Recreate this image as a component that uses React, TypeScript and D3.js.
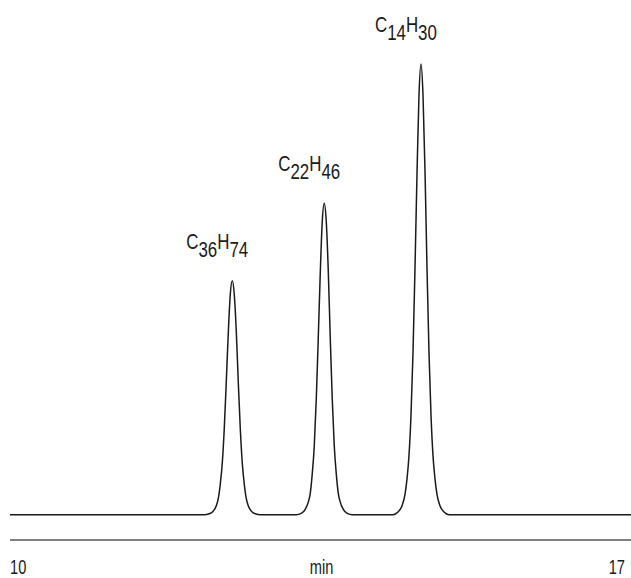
import React from 'react';
import * as d3 from 'd3';

// chromatogram trace (signal: tallest peak = 100)
const traceTimes = [
    10.0,
    12.211, 12.268, 12.314, 12.348, 12.371, 12.393, 12.416, 12.439, 12.462, 12.485, 12.507,
    12.530,
    12.553, 12.576, 12.598, 12.621, 12.644, 12.667, 12.689, 12.712, 12.746, 12.792, 12.849,
    13.258, 13.315, 13.361, 13.395, 13.418, 13.440, 13.463, 13.486, 13.509, 13.532, 13.554,
    13.577,
    13.600, 13.623, 13.645, 13.668, 13.691, 13.714, 13.736, 13.759, 13.793, 13.839, 13.896,
    14.359, 14.416, 14.462, 14.496, 14.519, 14.541, 14.564, 14.587, 14.610, 14.633, 14.655,
    14.678,
    14.701, 14.724, 14.746, 14.769, 14.792, 14.815, 14.837, 14.860, 14.894, 14.940, 14.997,
    17.07
];
const traceSignal = [
    0,
    0, 0.2, 0.8, 2.0, 3.6, 6.7, 11.4, 19.2, 29.6, 40.5, 48.8,
    51.9,
    48.8, 40.5, 29.6, 19.2, 11.4, 6.7, 3.6, 2.0, 0.8, 0.2, 0,
    0, 0.3, 1.2, 2.8, 4.8, 9.0, 15.2, 25.6, 39.4, 53.9, 65.0,
    69.1,
    65.0, 53.9, 39.4, 25.6, 15.2, 9.0, 4.8, 2.8, 1.2, 0.3, 0,
    0, 0.6, 2.0, 4.5, 8.0, 13.0, 22.0, 36.0, 55.0, 76.0, 93.0,
    100,
    93.0, 76.0, 55.0, 36.0, 22.0, 13.0, 8.0, 4.5, 2.0, 0.6, 0,
    0
];

// peak labels
const peakTimes = [12.53, 13.577, 14.678];
const peakHeights = [51.9, 69.1, 100];
const carbonCounts = ['36', '22', '14'];
const hydrogenCounts = ['74', '46', '30'];

const axisTicks = ['10', '17'];
const axisTitle = 'min';

const width = 631;
const height = 578;
const font = "'Liberation Sans', Arial, sans-serif";
// the original uses a condensed face; squeeze a regular one
const squeeze = 0.75;

export default function App() {
    const x = d3.scaleLinear().domain([10, 17]).range([10, 625]);
    const y = d3.scaleLinear().domain([0, 100]).range([514.7, 64]);

    const line = d3.line<number>()
        .x((_, i) => x(traceTimes[i]))
        .y((d) => y(d))
        .curve(d3.curveMonotoneX);

    const axisY = 540;
    const labelY = 573.5;

    return (
        <svg width={width} height={height}
             style={{position: 'absolute', left: 0, top: 0, background: '#fff'}}>
            <path d={line(traceSignal) || ''} fill="none" stroke="#1a1a1a" strokeWidth={1.5}/>

            {peakTimes.map((t, i) => (
                <text key={i} transform={`translate(${x(t) - 46},${y(peakHeights[i]) - 32}) scale(${squeeze},1)`}
                      fontFamily={font} fontSize={22.5} fill="#1a1a1a">
                    <tspan>C</tspan>
                    <tspan dy={8}>{carbonCounts[i]}</tspan>
                    <tspan dy={-8}>H</tspan>
                    <tspan dy={8}>{hydrogenCounts[i]}</tspan>
                </text>
            ))}

            <line x1={x(10)} x2={width} y1={axisY} y2={axisY} stroke="#555" strokeWidth={1.5}/>
            <text transform={`translate(${x(10)},${labelY}) scale(${squeeze},1)`}
                  fontFamily={font} fontSize={19.5} fill="#1a1a1a">{axisTicks[0]}</text>
            <text transform={`translate(${x(17)},${labelY}) scale(${squeeze},1)`} textAnchor="end"
                  fontFamily={font} fontSize={19.5} fill="#1a1a1a">{axisTicks[1]}</text>
            <text transform={`translate(${(x(10) + width) / 2 + 1},${labelY}) scale(${squeeze},1)`}
                  textAnchor="middle" fontFamily={font} fontSize={19.5} fill="#1a1a1a">{axisTitle}</text>
        </svg>
    );
}
